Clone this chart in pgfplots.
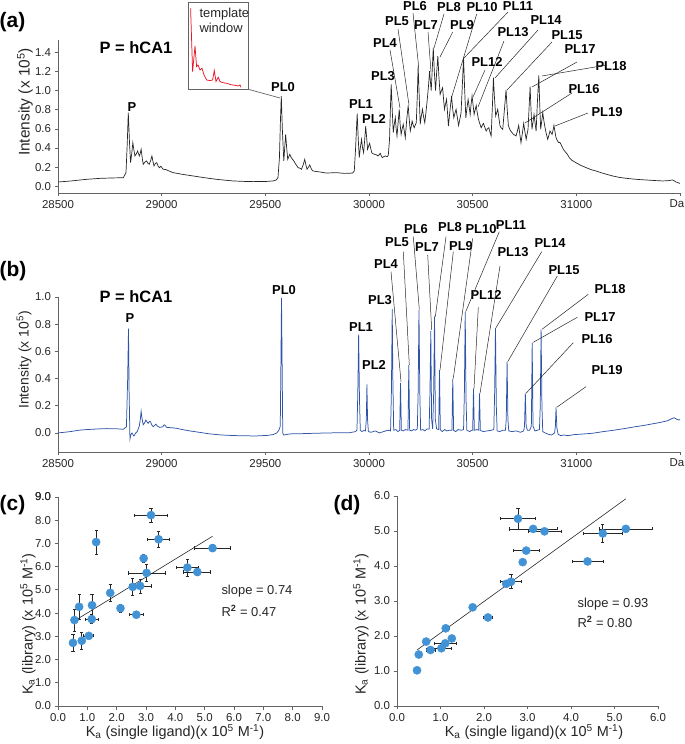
\documentclass[border=0pt]{standalone}
\usepackage{pgfplots}
\pgfplotsset{compat=1.18}
\usepackage{fontspec}
\setmainfont{Liberation Sans}

\definecolor{specblue}{RGB}{46,84,168}
\definecolor{ptblue}{RGB}{66,146,214}
\definecolor{axgray}{RGB}{100,100,100}
\definecolor{tplred}{RGB}{232,20,40}

\pgfplotsset{
  myaxis/.style={
    scale only axis,
    axis x line*=bottom, axis y line*=left,
    axis line style={axgray, line width=0.8pt},
    tick align=outside,
    major tick length=3.5bp,
    tick style={axgray, line width=0.8pt},
    ticklabel style={font=\fontsize{11.5}{13}\selectfont, text=black!85},
    /pgf/number format/assume math mode=true,
    scaled ticks=false,
    hide obscured x ticks=false, hide obscured y ticks=false,
    clip=false,
  },
  onedec/.style={/pgf/number format/.cd, fixed, fixed zerofill, precision=1},
}

\newcommand\lb{\fontsize{13}{15}\selectfont\bfseries}
\newcommand\pl{\fontsize{21}{24}\selectfont\bfseries}
\newcommand\ax{\fontsize{14.5}{17}\selectfont}
\newcommand\Da{\makebox[0pt]{\hspace*{-6bp}Da}}

\pgfplotstableread{
x y
28500 0.045
28560 0.055
28638 0.073
28703 0.083
28760 0.087
28815 0.090
28828 0.143
28834 0.45
28839 0.770
28845 0.45
28850 0.247
28856 0.35
28861 0.456
28866 0.38
28871 0.317
28878 0.34
28884 0.369
28892 0.317
28896 0.34
28901 0.387
28906 0.30
28911 0.230
28918 0.25
28927 0.265
28934 0.24
28940 0.230
28947 0.27
28953 0.317
28958 0.26
28963 0.213
28970 0.24
28976 0.247
28983 0.21
28989 0.195
28996 0.21
29007 0.178
29020 0.175
29030 0.165
29055 0.143
29100 0.125
29152 0.108
29200 0.092
29264 0.073
29300 0.065
29344 0.056
29400 0.051
29441 0.049
29500 0.050
29537 0.056
29552 0.065
29561 0.090
29568 0.30
29573 0.70
29577 0.944
29582 0.60
29589 0.265
29594 0.42
29598 0.543
29603 0.40
29608 0.282
29613 0.31
29618 0.334
29625 0.30
29631 0.282
29636 0.27
29642 0.247
29650 0.22
29658 0.195
29666 0.19
29674 0.178
29682 0.22
29690 0.282
29696 0.22
29701 0.178
29708 0.20
29714 0.223
29722 0.18
29730 0.160
29745 0.155
29762 0.150
29790 0.140
29810 0.140
29842 0.143
29880 0.135
29907 0.136
29922 0.14
29929 0.160
29935 0.387
29943 0.759
29948 0.50
29953 0.300
29958 0.40
29964 0.491
29969 0.40
29974 0.352
29979 0.48
29984 0.630
29989 0.50
29993 0.387
29998 0.42
30003 0.449
30008 0.40
30013 0.352
30020 0.34
30027 0.334
30035 0.33
30043 0.317
30049 0.33
30054 0.345
30059 0.32
30064 0.300
30072 0.31
30080 0.317
30088 0.31
30093 0.324
30099 0.491
30103 0.80
30107 1.066
30112 0.80
30117 0.561
30122 0.65
30127 0.717
30131 0.60
30135 0.526
30141 0.68
30146 0.805
30150 0.65
30155 0.543
30160 0.60
30165 0.648
30170 0.58
30175 0.508
30182 0.70
30189 0.846
30194 0.70
30199 0.578
30204 0.63
30208 0.683
30213 0.64
30218 0.613
30223 0.64
30228 0.665
30233 0.95
30237 1.257
30242 0.95
30247 0.648
30252 0.73
30258 0.805
30263 0.73
30269 0.665
30275 0.78
30281 0.909
30287 1.05
30292 1.205
30296 1.10
30300 1.000
30305 1.22
30310 1.449
30315 1.20
30321 1.000
30326 1.18
30332 1.362
30337 1.15
30343 0.961
30349 1.00
30355 1.031
30360 0.90
30364 0.805
30369 0.86
30374 0.909
30379 0.76
30383 0.630
30390 0.78
30398 0.944
30403 0.82
30409 0.717
30414 0.76
30420 0.805
30426 0.72
30432 0.637
30438 0.70
30444 0.770
30450 1.05
30456 1.344
30461 1.03
30467 0.717
30472 0.81
30478 0.909
30483 0.83
30488 0.752
30492 0.85
30497 0.944
30502 0.85
30507 0.752
30512 0.80
30517 0.846
30522 0.77
30528 0.700
30535 0.65
30541 0.613
30547 0.64
30552 0.658
30558 0.62
30565 0.578
30571 0.60
30578 0.613
30583 0.57
30589 0.526
30595 0.83
30600 1.135
30605 0.93
30611 0.735
30616 0.77
30621 0.805
30626 0.72
30632 0.630
30638 0.61
30645 0.596
30653 0.80
30661 1.007
30666 0.82
30672 0.637
30678 0.60
30684 0.578
30690 0.56
30697 0.543
30703 0.535
30709 0.526
30716 0.58
30722 0.637
30727 0.55
30733 0.456
30740 0.56
30746 0.658
30752 0.57
30758 0.491
30762 0.54
30767 0.596
30772 0.82
30777 1.041
30781 0.82
30786 0.596
30791 0.67
30796 0.752
30801 0.66
30806 0.578
30812 0.87
30819 1.160
30823 0.88
30828 0.596
30833 0.68
30838 0.770
30843 0.69
30849 0.613
30855 0.55
30862 0.491
30867 0.53
30873 0.578
30878 0.56
30883 0.543
30888 0.59
30892 0.637
30897 0.57
30902 0.508
30908 0.48
30915 0.456
30920 0.46
30926 0.439
30932 0.41
30937 0.387
30943 0.37
30950 0.352
30958 0.33
30966 0.300
30980 0.27
30998 0.247
31020 0.22
31047 0.195
31070 0.175
31095 0.160
31130 0.135
31175 0.108
31210 0.092
31255 0.080
31300 0.071
31336 0.066
31380 0.060
31416 0.056
31440 0.058
31464 0.066
31472 0.058
31480 0.045
31500 0.030
}\specA

\pgfplotstableread{
x y
28500 0.000
28560 0.010
28600 0.020
28640 0.025
28700 0.030
28735 0.032
28790 0.030
28815 0.027
28830 0.045
28836 0.40
28840 0.767
28843 0.30
28847 -0.045
28852 -0.010
28857 0.000
28862 -0.015
28866 -0.022
28875 0.000
28882 0.010
28892 0.050
28897 0.100
28901 0.160
28905 0.110
28911 0.060
28918 0.075
28924 0.095
28930 0.080
28935 0.071
28941 0.085
28946 0.083
28952 0.060
28959 0.046
28966 0.055
28972 0.065
28980 0.050
28991 0.041
29005 0.045
29012 0.060
29017 0.055
29024 0.041
29050 0.038
29072 0.034
29100 0.025
29136 0.015
29180 0.005
29232 -0.007
29290 -0.015
29345 -0.019
29400 -0.021
29457 -0.022
29510 -0.018
29537 -0.012
29555 0.000
29566 0.022
29572 0.050
29575 0.500
29578 0.994
29581 0.500
29584 0.000
29588 -0.015
29600 -0.012
29618 -0.007
29680 -0.005
29746 -0.002
29800 0.000
29870 0.002
29907 0.002
29935 0.010
29942 0.022
29946 0.300
29950 0.723
29954 0.250
29958 0.020
29966 0.010
29975 0.018
29983 0.015
29987 0.100
29990 0.357
29993 0.100
29997 0.010
30010 0.005
30030 0.015
30050 0.000
30070 0.010
30090 0.020
30104 0.015
30108 0.300
30112 0.913
30115 0.400
30119 0.020
30130 0.025
30140 0.010
30148 0.020
30152 0.369
30156 0.020
30165 0.015
30176 0.025
30188 0.020
30192 0.498
30196 0.020
30205 0.015
30215 0.025
30225 0.020
30233 0.030
30237 0.300
30241 0.906
30245 0.300
30249 0.020
30260 0.025
30270 0.015
30280 0.030
30290 0.030
30294 0.300
30298 0.750
30302 0.100
30307 0.030
30312 0.300
30316 0.857
30320 0.100
30326 0.030
30336 0.025
30340 0.462
30344 0.025
30353 0.010
30365 0.025
30375 0.015
30388 0.020
30400 0.020
30404 0.400
30408 0.020
30418 0.010
30430 0.025
30445 0.020
30456 0.025
30460 0.300
30464 0.889
30468 0.250
30472 0.020
30485 0.010
30495 0.020
30500 0.020
30504 0.327
30508 0.020
30520 0.025
30529 0.020
30533 0.291
30537 0.020
30550 0.010
30570 0.015
30590 0.020
30602 0.025
30606 0.300
30610 0.772
30614 0.200
30618 0.015
30630 0.010
30645 0.020
30658 0.020
30662 0.100
30666 0.523
30670 0.100
30674 0.015
30690 0.010
30710 0.015
30730 0.005
30746 0.015
30750 0.050
30754 0.291
30758 0.050
30764 0.020
30775 0.020
30783 0.050
30787 0.664
30791 0.050
30800 0.015
30812 0.020
30822 0.025
30826 0.200
30830 0.760
30834 0.200
30838 0.010
30850 0.000
30865 -0.010
30880 -0.015
30895 0.000
30899 0.050
30902 0.188
30906 0.040
30912 -0.010
30925 -0.020
30940 -0.015
30960 -0.020
30990 -0.012
31030 -0.008
31079 -0.002
31130 0.010
31180 0.020
31239 0.034
31280 0.045
31320 0.054
31360 0.065
31400 0.076
31440 0.090
31460 0.105
31472 0.112
31485 0.100
31496 0.095
31500 0.100
}\specB

\pgfplotstableread{
x y
2.3 81
4.3 17.7
6.7 43.3
8.3 22.7
9.7 24.3
11.7 19.3
13.7 21
15.7 14.3
18.3 9.3
21.7 8.7
24.3 9.3
26 18.7
27.7 7.7
30 12
31.7 7.7
34.3 6.7
38.3 6
42.3 4.7
46.7 4
50 3.3
51.7 4.3
52.7 2
}\tpl

\pgfplotstableread{
x y ex ey
0.51 2.72 0.03 0.38
0.56 3.70 0.03 0.48
0.72 4.27 0.03 0.55
0.81 2.81 0.03 0.37
1.05 3.02 0.17 0.08
1.16 4.34 0.03 0.48
1.15 3.74 0.23 0.20
1.30 7.06 0.03 0.52
1.78 4.87 0.03 0.36
2.13 4.21 0.03 0.17
2.55 5.13 0.08 0.37
2.67 3.93 0.23 0.08
2.80 5.17 0.37 0.30
2.92 6.36 0.08 0.17
3.02 5.73 0.63 0.36
3.17 8.22 0.56 0.31
3.43 7.18 0.38 0.34
4.41 5.96 0.37 0.36
4.75 5.77 0.46 0.15
5.27 6.80 0.62 0.15
}\dataC

\pgfplotstableread{
x y ex ey
0.46 1.02 0.02 0.02
0.50 1.47 0.05 0.06
0.67 1.84 0.05 0.08
0.77 1.60 0.10 0.05
1.02 1.65 0.23 0.05
1.12 2.22 0.08 0.05
1.11 1.79 0.25 0.08
1.26 1.93 0.05 0.08
1.74 2.82 0.05 0.04
2.09 2.53 0.10 0.04
2.51 3.49 0.05 0.08
2.62 3.55 0.24 0.20
2.78 5.35 0.40 0.29
2.89 4.11 0.05 0.05
2.97 4.44 0.30 0.06
3.13 5.06 0.55 0.05
3.39 4.99 0.38 0.05
4.38 4.13 0.36 0.04
4.73 4.93 0.45 0.25
5.26 5.06 0.61 0.05
}\dataD

\begin{document}
\begin{tikzpicture}[x=1bp,y=1bp]
\path[use as bounding box] (0,0) rectangle (685,744);

% ---------------- (a)
\begin{axis}[myaxis, at={(58bp,551bp)}, anchor=south west,
  width=622bp, height=153bp,
  xmin=28500, xmax=31500, ymin=-0.07, ymax=1.53,
  xtick={28500,29000,29500,30000,30500,31000,31500},
  xticklabels={28500,29000,29500,30000,30500,31000,\Da},
  ytick={0,0.2,0.4,0.6,0.8,1.0,1.2,1.4},
  yticklabel style={onedec}]
\addplot[black!85, line width=0.7pt] table[x=x,y=y] {\specA};
\end{axis}

% template window inset
\begin{axis}[scale only axis, at={(188.3bp,654.7bp)}, anchor=south west,
  width=60bp, height=86.6bp, xmin=0, xmax=60, ymin=0, ymax=86.6,
  xtick=\empty, ytick=\empty, axis line style={axgray, line width=0.8pt}]
\addplot[tplred, line width=0.75pt] table[x=x,y=y] {\tpl};
\end{axis}
\draw[axgray, line width=0.7pt] (248.3,654.7) -- (280,646);
\node[anchor=west, font=\fontsize{13}{15}\selectfont, text=black!85] at (196,730) {template};
\node[anchor=west, font=\fontsize{13}{15}\selectfont, text=black!85] at (196,716) {window};

% ---------------- (b)
\begin{axis}[myaxis, at={(58bp,292bp)}, anchor=south west,
  width=622bp, height=155bp,
  xmin=28500, xmax=31500, ymin=-0.14, ymax=1.0,
  xtick={28500,29000,29500,30000,30500,31000,31500},
  xticklabels={28500,29000,29500,30000,30500,31000,\Da},
  ytick={0,0.2,0.4,0.6,0.8,1.0},
  yticklabel style={onedec}]
\addplot[specblue, line width=0.75pt] table[x=x,y=y] {\specB};
\end{axis}

% ---------------- (c)
\begin{axis}[myaxis, at={(58bp,38bp)}, anchor=south west,
  width=264bp, height=209bp,
  xmin=0, xmax=9, ymin=0, ymax=9,
  xtick={0,1,2,3,4,5,6,7,8,9},
  ytick={0,1,2,3,4,5,6,7,8,9},
  yticklabels={0.0,1.0,2.0,3.0,4.0,5.0,6.0,7.0,8.0,9.0},
  xticklabel style={onedec}]
\addplot[black!85, line width=0.6pt] coordinates {(0.63,3.72) (5.27,7.31)};
\addplot[only marks, mark=*, mark size=4.1bp, mark options={fill=ptblue, draw=ptblue},
  error bars/.cd, x dir=both, x explicit, y dir=both, y explicit,
  error bar style={black!85, line width=0.7pt},
  error mark options={black!85, line width=0.7pt, mark size=1.6bp, rotate=90}]
  table[x=x, y=y, x error=ex, y error=ey] {\dataC};
\draw[axgray, line width=0.8pt] (axis cs:0,9) -- ++(-3.5bp,0);
\node[anchor=east, inner sep=0.333em, xshift=-3.5bp, font=\fontsize{11.5}{13}\selectfont, text=black!85] at (axis cs:0,9) {9.0};
\end{axis}

% ---------------- (d)
\begin{axis}[myaxis, at={(397bp,38bp)}, anchor=south west,
  width=261bp, height=210bp,
  xmin=0, xmax=6, ymin=0, ymax=6,
  xtick={0,1,2,3,4,5,6}, ytick={0,1,2,3,4,5,6},
  xticklabel style={onedec}, yticklabel style={onedec}]
\addplot[black!85, line width=0.6pt] coordinates {(0.46,1.60) (5.26,5.92)};
\addplot[only marks, mark=*, mark size=4.1bp, mark options={fill=ptblue, draw=ptblue},
  error bars/.cd, x dir=both, x explicit, y dir=both, y explicit,
  error bar style={black!85, line width=0.7pt},
  error mark options={black!85, line width=0.7pt, mark size=1.6bp, rotate=90}]
  table[x=x, y=y, x error=ex, y error=ey] {\dataD};
\end{axis}

% ---------------- panel letters
\node[font=\pl] at (12.5,722) {(a)};
\node[font=\pl] at (13,473) {(b)};
\node[font=\pl] at (12.5,239) {(c)};
\node[font=\pl] at (347,239) {(d)};

% axis labels
\node[rotate=90, font=\fontsize{15.5}{18}\selectfont, text=black!85] at (25,642) {Intensity (x 10\textsuperscript{5})};
\node[rotate=90, font=\fontsize{14}{17}\selectfont, text=black!85] at (24,384) {Intensity (x 10\textsuperscript{5})};
\node[rotate=90, font=\ax, text=black!85] at (28,120) {K\textsubscript{a} (library) (x 10\textsuperscript{5} M\textsuperscript{-1})};
\node[rotate=90, font=\ax, text=black!85] at (361,120) {K\textsubscript{a} (library) (x 10\textsuperscript{5} M\textsuperscript{-1})};
\node[font=\ax, text=black!85] at (175,12) {K\textsubscript{a} (single ligand)(x 10\textsuperscript{5} M\textsuperscript{-1})};
\node[font=\ax, text=black!85] at (534,12) {K\textsubscript{a} (single ligand)(x 10\textsuperscript{5} M\textsuperscript{-1})};

% slope text
\node[anchor=west, font=\fontsize{13}{15}\selectfont, text=black!85] at (218,153) {slope = 0.74};
\node[anchor=west, font=\fontsize{13}{15}\selectfont, text=black!85] at (218,133) {R\textsuperscript{\textbf{2}} = 0.47};
\node[anchor=west, font=\fontsize{13}{15}\selectfont, text=black!85] at (574,140) {slope = 0.93};
\node[anchor=west, font=\fontsize{13}{15}\selectfont, text=black!85] at (574,122) {R\textsuperscript{\textbf{2}} = 0.80};

% ---------------- (a) annotations
\node[font=\fontsize{16.5}{19}\selectfont\bfseries] at (136,696.5) {P = hCA1};
\node[font=\lb] at (132,637) {P};
\node[font=\lb] at (283,657) {PL0};
\node[font=\lb] at (361,640) {PL1};
\node[font=\lb] at (374,625) {PL2};
\node[font=\lb] at (383,668) {PL3};
\node[font=\lb] at (385,701) {PL4};
\node[font=\lb] at (397,723) {PL5};
\node[font=\lb] at (415,738) {PL6};
\node[font=\lb] at (426,719) {PL7};
\node[font=\lb] at (449,737) {PL8};
\node[font=\lb] at (462,719) {PL9};
\node[font=\lb] at (482,737) {PL10};
\node[font=\lb] at (518,738) {PL11};
\node[font=\lb] at (487,682) {PL12};
\node[font=\lb] at (513,712) {PL13};
\node[font=\lb] at (546,724) {PL14};
\node[font=\lb] at (567,709) {PL15};
\node[font=\lb] at (580,695) {PL17};
\node[font=\lb] at (611,678) {PL18};
\node[font=\lb] at (584,655) {PL16};
\node[font=\lb] at (607,632) {PL19};
\begin{scope}[black!85, line width=0.5pt]
\draw (390,694) -- (400,636);
\draw (398,715) -- (409,639);
\draw (413,731) -- (418.7,677);
\draw (428,712) -- (431,672);
\draw (444,730) -- (434,696);
\draw (452.7,712) -- (440,687);
\draw (476.7,730) -- (451.7,647);
\draw (508,732) -- (464,686);
\draw (485,674) -- (473,647);
\draw (504,703) -- (478,637);
\draw (538,714) -- (495,666);
\draw (552,702) -- (507,654);
\draw (577,682) -- (532,657);
\draw (607,679) -- (542,668);
\draw (572,651) -- (525,621);
\draw (588,631) -- (555,618);
\end{scope}

% ---------------- (b) annotations
\node[font=\fontsize{16.5}{19}\selectfont\bfseries] at (136,447) {P = hCA1};
\node[font=\lb] at (130,426) {P};
\node[font=\lb] at (284,454) {PL0};
\node[font=\lb] at (361,417) {PL1};
\node[font=\lb] at (374,379) {PL2};
\node[font=\lb] at (380,444) {PL3};
\node[font=\lb] at (386,480) {PL4};
\node[font=\lb] at (397,502) {PL5};
\node[font=\lb] at (416,515) {PL6};
\node[font=\lb] at (427,497) {PL7};
\node[font=\lb] at (450,517) {PL8};
\node[font=\lb] at (461,498) {PL9};
\node[font=\lb] at (481,515) {PL10};
\node[font=\lb] at (511,519) {PL11};
\node[font=\lb] at (486,449) {PL12};
\node[font=\lb] at (513,492) {PL13};
\node[font=\lb] at (550,501) {PL14};
\node[font=\lb] at (564,474) {PL15};
\node[font=\lb] at (610,455) {PL18};
\node[font=\lb] at (600,427) {PL17};
\node[font=\lb] at (597,405) {PL16};
\node[font=\lb] at (607,374) {PL19};
\begin{scope}[black!85, line width=0.5pt]
\draw (391,472.3) -- (401,362.3);
\draw (403.3,492.3) -- (409.3,379);
\draw (413.3,507.3) -- (419.3,434.7);
\draw (427.7,489) -- (431.7,414);
\draw (446,507.3) -- (435.3,427.3);
\draw (453.3,492.3) -- (440,374);
\draw (472.7,505.7) -- (453.3,365.7);
\draw (499.3,512.3) -- (465.7,432.3);
\draw (478.3,436.7) -- (474,355.7);
\draw (500,478) -- (480,350.7);
\draw (541.7,492.3) -- (496,416.3);
\draw (557.3,468) -- (507.7,382.3);
\draw (588.3,449.7) -- (542,414.7);
\draw (577.3,426.7) -- (533.3,401.7);
\draw (573.3,401.3) -- (526,350.7);
\draw (586,357.3) -- (556.7,336.7);
\end{scope}
\end{tikzpicture}
\end{document}
